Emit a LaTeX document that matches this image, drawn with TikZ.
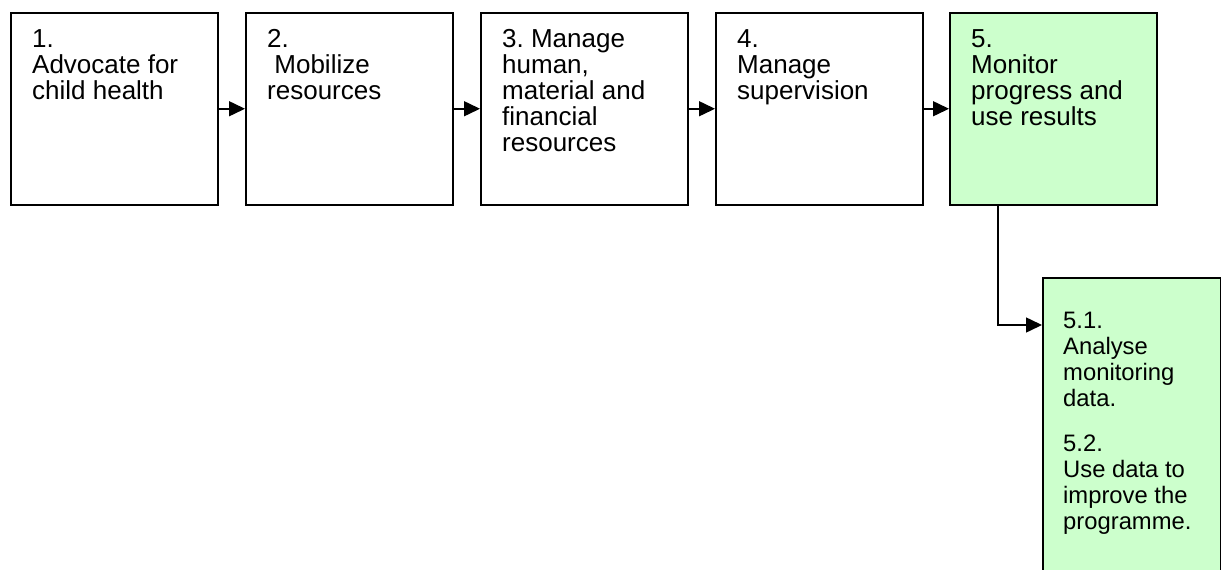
\documentclass[tikz,border=0pt]{standalone}
\usepackage{fontspec}
\setmainfont{Liberation Sans}
\usetikzlibrary{arrows.meta,calc}
\definecolor{stepgreen}{HTML}{CCFFCC}
\frenchspacing
\begin{document}
\begin{tikzpicture}[x=1pt,y=-1pt,
  stepbox/.style={draw=black,line width=1.5pt,minimum width=207pt,minimum height=192pt,anchor=north west,inner sep=0pt},
  greenbox/.style={stepbox,fill=stepgreen},
  steptext/.style={anchor=north west,inner sep=0pt,align=left,font=\fontsize{26}{26}\selectfont},
  subtext/.style={steptext,font=\fontsize{23.8}{26}\selectfont},
  flow/.style={line width=1.5pt,-{Triangle[length=16pt,width=15pt]}}]
\useasboundingbox (0,0) rectangle (1221,570);
\clip (0,0) rectangle (1221,570);

% the five main steps
\node[stepbox] (b1) at (10,12) {};
\node[stepbox] (b2) at (245,12) {};
\node[stepbox] (b3) at (480,12) {};
\node[stepbox] (b4) at (715,12) {};
\node[greenbox] (b5) at (949,12) {};

\node[steptext] (t1) at ($(b1.north west)+(22,17)$) {1.\\Advocate for\\child health};
\node[steptext] (t2) at ($(b2.north west)+(22,17)$) {2.\\\ Mobilize\\resources};
\node[steptext] (t3) at ($(b3.north west)+(22,17)$) {3.\ Manage\\human,\\material and\\financial\\resources};
\node[steptext] (t4) at ($(b4.north west)+(22,17)$) {4.\\Manage\\supervision};
\node[steptext] (t5) at ($(b5.north west)+(22,17)$) {5.\\Monitor\\progress and\\use results};

% sub-steps of step 5
\node[greenbox,minimum width=178pt,minimum height=330pt] (b51) at (1042,277) {};
\node[subtext] (t51) at ($(b51.north west)+(21,35)$) {5.1.\\Analyse\\monitoring\\data.\\[19pt]5.2.\\Use data to\\improve the\\programme.};
\coordinate (in51) at ($(b51.north west)+(0,48)$);

% connectors
\draw[flow] (b1.east) -- (b2.west);
\draw[flow] (b2.east) -- (b3.west);
\draw[flow] (b3.east) -- (b4.west);
\draw[flow] (b4.east) -- (b5.west);
\draw[flow] ($(b5.south west)+(49,0)$) |- (in51);
\end{tikzpicture}
\end{document}
